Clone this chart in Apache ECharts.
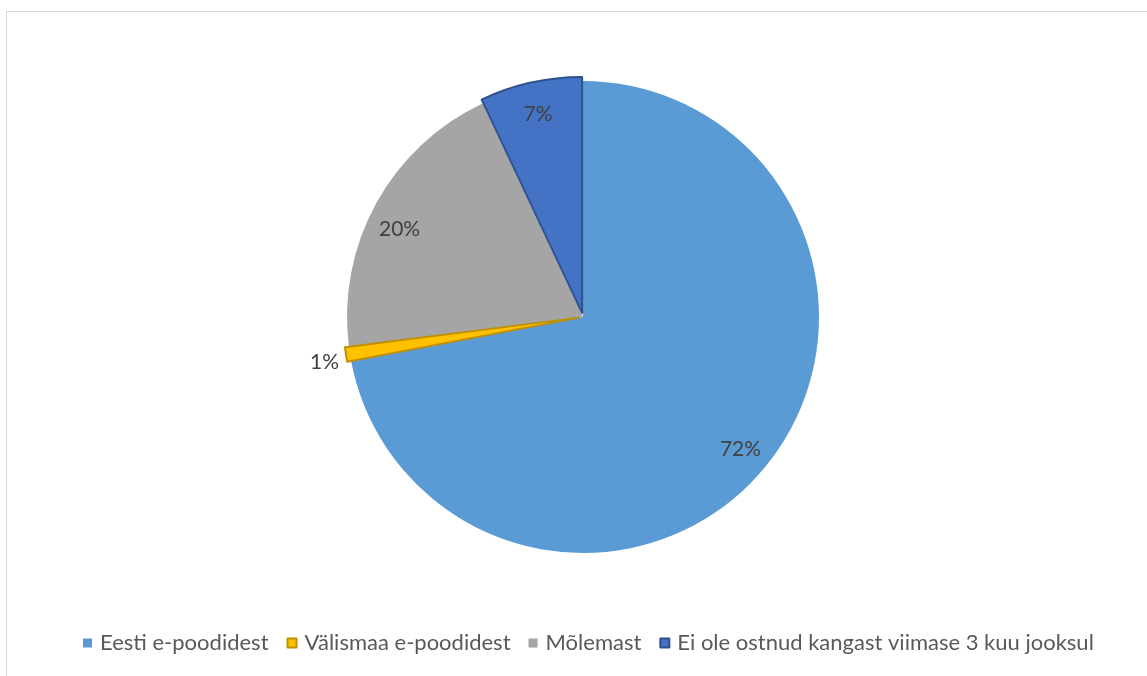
<!DOCTYPE html>
<html>
<head>
<meta charset="utf-8">
<script src="https://cdn.jsdelivr.net/npm/echarts@6/dist/echarts.min.js"></script>
<style>
    html, body { margin: 0; padding: 0; background: #fff; }
    #frame { position: absolute; left: 6px; top: 11px; width: 1200px; height: 720px; border: 1px solid #d9d9d9; }
    #chart { position: absolute; left: 0; top: 0; width: 1147px; height: 676px; }
</style>
</head>
<body>
<div id="frame"></div>
<div id="chart"></div>
<script>
'use strict';
var categories = ['Eesti e-poodidest', 'Välismaa e-poodidest', 'Mõlemast', 'Ei ole ostnud kangast viimase 3 kuu jooksul'];
var shares = [72, 1, 20, 7];
var fills = ['#5B9BD5', '#FFC000', '#A5A5A5', '#4472C4'];
var outlines = [null, '#BF9000', null, '#2F528F'];
var exploded = [false, true, false, true];

var chart = echarts.init(document.getElementById('chart'), null, {renderer: 'canvas'});

var center = [583, 317];
var font = 'Lato';

var sliceData = categories.map(function (name, i) {
    var style = {
        color: fills[i],
        borderColor: outlines[i] || '#fff',
        borderWidth: outlines[i] ? 2 : 0
    };
    return {
        name: name,
        value: shares[i],
        selected: exploded[i],
        itemStyle: style,
        select: {itemStyle: style},
        emphasis: {itemStyle: style}
    };
});

// transparent ring, only used to put the labels near the rim like excel does
var labelData = categories.map(function (name, i) {
    var item = {
        name: name,
        value: shares[i],
        selected: exploded[i]
    };
    if (shares[i] < 3) {
        item.label = {position: 'outside'};
    }
    return item;
});

// small nudges so the labels sit where excel put them
var labelNudge = [[-2, 0], [0, 7], [-2, 12], [1, 3]];

var option = {
    animation: false,
    legend: {
        bottom: 17,
        left: 78,
        itemWidth: 9,
        itemHeight: 9,
        itemGap: 18,
        icon: 'rect',
        selectedMode: false,
        textStyle: {
            color: '#595959',
            fontSize: 22,
            fontFamily: font,
            padding: [0, 0, 0, 3]
        },
        data: categories.map(function (name, i) {
            return {
                name: name,
                itemStyle: {
                    color: fills[i],
                    borderColor: outlines[i] || fills[i],
                    borderWidth: outlines[i] ? 2 : 0
                }
            };
        })
    },
    series: [
        {
            type: 'pie',
            center: center,
            radius: [0, 236],
            startAngle: 90,
            clockwise: true,
            selectedMode: 'multiple',
            selectedOffset: 4,
            silent: true,
            label: {show: false},
            labelLine: {show: false},
            data: sliceData
        },
        {
            type: 'pie',
            center: center,
            radius: [172, 236],
            startAngle: 90,
            clockwise: true,
            selectedMode: 'multiple',
            selectedOffset: 4,
            silent: true,
            itemStyle: {color: 'transparent', borderWidth: 0},
            select: {itemStyle: {color: 'transparent', borderWidth: 0}},
            label: {
                show: true,
                position: 'inside',
                formatter: '{c}%',
                color: '#404040',
                fontSize: 21,
                fontFamily: font
            },
            labelLine: {show: false, length: 2, length2: 0},
            labelLayout: function (params) {
                var n = labelNudge[params.dataIndex];
                return {dx: n[0], dy: n[1]};
            },
            data: labelData
        }
    ]
};

chart.setOption(option);
</script>
</body>
</html>
